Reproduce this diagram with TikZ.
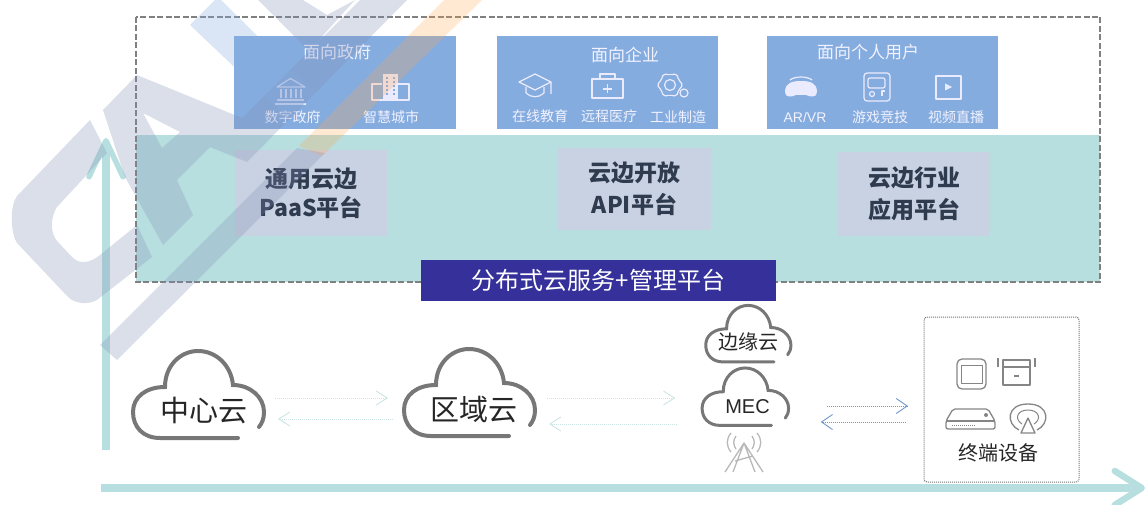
\documentclass[tikz,border=0pt]{standalone}
\usepackage{fontspec}
\setmainfont{Noto Sans CJK SC}
\newfontfamily\arialfont{Liberation Sans}
\usetikzlibrary{arrows.meta}
\definecolor{tealband}{HTML}{B8DFE0}
\definecolor{boxblue}{HTML}{85ACDF}
\definecolor{boxgrey}{HTML}{C9D2E2}
\definecolor{navyband}{HTML}{35309A}
\definecolor{cloudgrey}{HTML}{777777}
\definecolor{markgrey}{HTML}{7F8DB5}
\definecolor{textdark}{HTML}{2F3B4F}
\definecolor{palearrow}{HTML}{CBE4E4}
\definecolor{bluearrow}{HTML}{7098CC}
\tikzset{
  panel/.style={inner sep=0pt,outer sep=0pt},
  bluebox/.style={panel,fill=boxblue},
  greybox/.style={panel,fill=boxgrey,text=textdark,font=\fontsize{23}{32}\selectfont\bfseries,align=center},
  headtext/.style={panel,text=white!95!blue,font=\fontsize{17}{20}\selectfont},
  smalltext/.style={panel,text=white!95!blue,font=\fontsize{14}{16}\selectfont},
  whiteline/.style={draw=white!92!blue,line width=1.2pt,line join=round},
  greyline/.style={draw=black!48,line width=1.3pt,line join=round},
  flowpale/.style={draw=palearrow,line width=1pt,densely dotted,-{Straight Barb[length=11pt,width=14pt,line width=.9pt]}},
  flowblue/.style={draw=bluearrow,line width=1pt,densely dotted,-{Straight Barb[length=11pt,width=15pt,line width=.9pt]}},
  axisline/.style={draw=tealband,line width=8pt},
  wmark/.style={fill=markgrey,fill opacity=.28},
  cloudtext/.style={panel,text=black!85},
  cloudpic/.pic={
    \draw[draw=cloudgrey,line cap=round,pic actions] (40,43) -- (-38,43)
      .. controls (-55,43) and (-65,32) .. (-65,17)
      .. controls (-65,2) and (-52,-8) .. (-33,-8)
      .. controls (-33,-30) and (-17,-44) .. (0,-44)
      .. controls (18,-44) and (33,-30) .. (35,-10)
      .. controls (52,-10) and (66,2) .. (66,17)
      .. controls (66,24) and (64,28) .. (61,32);
  },
}
\begin{document}
\begin{tikzpicture}[x=1pt,y=-1pt]
\useasboundingbox (0,0) rectangle (1146,505);
\fill [tealband] (136,135) rectangle (1100,282);
\draw [black!50,line width=1.2pt,dash pattern=on 6pt off 2.5pt] (136,17) rectangle (1100,282);

\node [bluebox,minimum width=222,minimum height=93] (zhengfu) at (345,82.5) {};
\node [bluebox,minimum width=221,minimum height=93] (qiye) at (607.5,82.5) {};
\node [bluebox,minimum width=231,minimum height=93] (geren) at (882.5,82.5) {};
\node [headtext] (zhengfutitle) at (337,52) {面向政府};
\node [headtext] (qiyetitle) at (625,55) {面向企业};
\node [headtext] (gerentitle) at (868,52) {面向个人用户};
\node [smalltext] (shuzi) at (292.5,117) {数字政府};
\node [smalltext] (zhihui) at (391,117) {智慧城市};
\node [smalltext] (zaixian) at (540,116.5) {在线教育};
\node [smalltext] (yuancheng) at (609,116) {远程医疗};
\node [smalltext] (gongye) at (678,117) {工业制造};
\node [smalltext,font=\fontsize{14}{16}\selectfont\arialfont] (arvr) at (805,117) {AR/VR};
\node [smalltext] (youxi) at (880,117) {游戏竞技};
\node [smalltext] (shipin) at (956,117) {视频直播};

\draw [whiteline] (277,87) -- (290.5,78.5) -- (305,87) -- cycle;
\draw [whiteline] (281,89) -- (281,98) (286,89) -- (286,98) (291,89) -- (291,98) (296,89) -- (296,98) (301,89) -- (301,98);
\draw [whiteline] (277,100) -- (304,100) (275,104) -- (306,104);
\draw [whiteline] (382,84) -- (372,84) -- (372,100) -- (409,100) -- (409,84) -- (398,84);
\fill [white!92!blue] (383,74) rectangle (398,100);
\draw [boxblue,line width=2pt,dash pattern=on 2pt off 2pt] (387,77) -- (387,95) (394,77) -- (394,95);
\draw [whiteline] (519,82) -- (535,74) -- (551,82) -- (535,90) -- cycle;
\draw [whiteline] (526,87) -- (526,93) .. controls (531,98) and (539,98) .. (544,93) -- (544,87) (551,82) -- (551,94);
\draw [whiteline] (592,79) rectangle (623,98);
\draw [whiteline] (600,79) -- (600,74) -- (615,74) -- (615,79);
\draw [whiteline] (603,89) -- (612,89) (607.5,84.5) -- (607.5,93.5);
\draw [whiteline,rounded corners=2pt] (683,85) -- (678.7,80) -- (676.5,73.7) -- (670,75) -- (663.5,73.7) -- (661.3,80) -- (657,85) -- (661.3,90) -- (663.5,96.3) -- (670,95) -- (676.5,96.3) -- (678.7,90) -- cycle;
\draw [whiteline] (670,85) circle [radius=5.5];
\draw [whiteline,fill=boxblue] (684,93) circle [radius=4];
\fill [white!92!blue] (785,92) .. controls (785,83) and (792,81) .. (801,81) .. controls (810,81) and (817,83) .. (817,92) .. controls (817,98) and (810,97) .. (806,95) -- (796,95) .. controls (792,97) and (785,98) .. (785,92);
\draw [whiteline] (790,80) .. controls (795,76) and (807,76) .. (812,80);
\draw [whiteline,rounded corners=3pt] (864,73) rectangle (890,101);
\draw [whiteline,rounded corners=2pt] (868,78) rectangle (885,88);
\draw [whiteline] (872,94) circle [radius=2.5];
\draw [whiteline] (882,96) -- (882,91) -- (885,91);
\draw [whiteline,line width=2pt] (936,76) rectangle (961,99);
\fill [white!92!blue] (945,83.5) -- (945,90.5) -- (952,87) -- cycle;

\node [greybox,font=\fontsize{23}{29}\selectfont\bfseries,minimum width=152,minimum height=86] (tongyong) at (311,193) {通用云边\\PaaS平台};
\node [greybox,minimum width=153,minimum height=82] (kaifang) at (634.5,189) {云边开放\\API平台};
\node [greybox,minimum width=152,minimum height=84] (hangye) at (914,194) {云边行业\\应用平台};
\node [panel,fill=navyband,text=white,minimum width=355,minimum height=41,font=\fontsize{24}{26}\selectfont] (guanli) at (598.5,280.5) {分布式云服务+管理平台};

\pic [line width=4pt] at (198,395) {cloudpic};
\pic [line width=4pt] at (469,393) {cloudpic};
\pic [line width=3pt,scale=.65] at (748,334) {cloudpic};
\pic [line width=3pt,scale=.66] at (745,397) {cloudpic};
\node [cloudtext,minimum width=122,font=\fontsize{29}{31}\selectfont] (zhongxin) at (204,411) {中心云};
\node [cloudtext,minimum width=122,font=\fontsize{29}{31}\selectfont] (quyu) at (474,410) {区域云};
\node [cloudtext,font=\fontsize{20}{22}\selectfont] (bianyuan) at (748,342) {边缘云};
\node [cloudtext,font=\fontsize{20}{22}\selectfont\arialfont] (mec) at (747.5,407) {MEC};

\draw [draw=black!28,line width=1.3pt,line join=round] (725,472) -- (744,443) -- (763,472) (733,472) -- (744,443) (755,472) -- (744,443) (735,461) -- (753,456);
\draw [draw=black!28,line width=1.3pt] (736,436) .. controls (733,440) and (733,445) .. (736,449) (731,433) .. controls (726,439) and (726,446) .. (731,452) (752,436) .. controls (755,440) and (755,445) .. (752,449) (757,433) .. controls (762,439) and (762,446) .. (757,452);

\node [panel,draw=black!55,densely dotted,line width=1pt,rounded corners=3pt,minimum width=155,minimum height=165] (zhongduan) at (1001.5,399.5) {};
\node [cloudtext,font=\fontsize{20}{22}\selectfont] (zhongduantext) at (998,453) {终端设备};
\draw [greyline,rounded corners=5pt] (957,359) rectangle (986,389);
\draw [greyline,line width=1pt] (961,365) rectangle (982,383);
\draw [greyline] (1003,360) rectangle (1030,385);
\draw [greyline] (1003,367) -- (1030,367) (1014,376) -- (1019,376);
\draw [greyline,line width=1.8pt] (998,358) -- (998,367) (1035,358) -- (1035,367);
\draw [greyline,rounded corners=2pt] (953,409) -- (988,409) -- (995,421) -- (995,429) -- (946,429) -- (946,421) -- cycle;
\draw [greyline] (946,421) -- (995,421);
\draw [greyline,line width=1pt,densely dotted] (952,425) -- (976,425);
\fill [black!48] (986,415) circle [radius=2];
\draw [greyline] (1019,430) .. controls (1006,424) and (1006,404) .. (1028,404) .. controls (1050,404) and (1050,424) .. (1037,430);
\draw [greyline,line width=1pt] (1022,424) .. controls (1014,419) and (1017,410) .. (1028,410) .. controls (1039,410) and (1042,419) .. (1034,424);
\draw [greyline] (1021,433) -- (1028,418) -- (1035,433) -- cycle;

\draw [flowpale] ([xshift=10pt,yshift=13pt]zhongxin.east) -- ([xshift=-25pt,yshift=12pt]quyu.west);
\draw [flowpale] ([xshift=-20pt,yshift=-9pt]quyu.west) -- ([xshift=13pt,yshift=-8pt]zhongxin.east);
\draw [flowpale] ([xshift=12pt,yshift=12pt]quyu.east) -- ([xshift=-50pt,yshift=9pt]mec.west);
\draw [flowpale] ([xshift=-48pt,yshift=-17pt]mec.west) -- ([xshift=14pt,yshift=-14pt]quyu.east);
\draw [flowblue] ([xshift=57pt,yshift=1pt]mec.east) -- ([xshift=-16pt,yshift=-6.5pt]zhongduan.west);
\draw [flowblue] ([xshift=-18pt,yshift=-22.5pt]zhongduan.west) -- ([xshift=51pt,yshift=-15pt]mec.east);

\coordinate (axisorigin) at (106,450);
\coordinate (axistop) at (106,138);
\coordinate (axisleft) at (101,488);
\coordinate (axisright) at (1145,488);
\draw [axisline,-{Straight Barb[length=36pt,width=34pt,line width=5.5pt,round]}] (axisorigin) -- (axistop);
\draw [axisline,-{Straight Barb[length=27pt,width=34pt,line width=6.5pt,round]}] (axisleft) -- (axisright);

\fill [wmark] (90,120) -- (17,196) .. controls (10,205) and (10,232) .. (17,243) -- (68,297) .. controls (75,304) and (88,305) .. (97,300) -- (152,257) -- (137,225) -- (100,255) .. controls (90,263) and (80,265) .. (72,257) -- (58,242) .. controls (50,234) and (50,218) .. (57,207) -- (107,153) -- cycle;
\fill [wmark] (103,110) -- (137,75) -- (242,118) -- (360,0) -- (407,0) -- (247,162) -- (210,147) -- (177,180) -- (193,215) -- (163,245) -- (125,177) -- cycle
  (143,113) -- (162,148) -- (180,132) -- cycle
  (258,0) -- (303,0) -- (327,15) -- (355,0) -- (309,51) -- cycle;
\fill [wmark] (100,345) -- (117,360) -- (325,153) -- (297,148) -- cycle;
\fill [fill=orange!70!white,fill opacity=.25] (299,146) -- (322,156) -- (482,0) -- (444,0) -- cycle;
\fill [fill=boxblue,fill opacity=.3] (190,25) -- (218,-3) -- (315,93) -- (288,118) -- cycle;
\end{tikzpicture}
\end{document}
